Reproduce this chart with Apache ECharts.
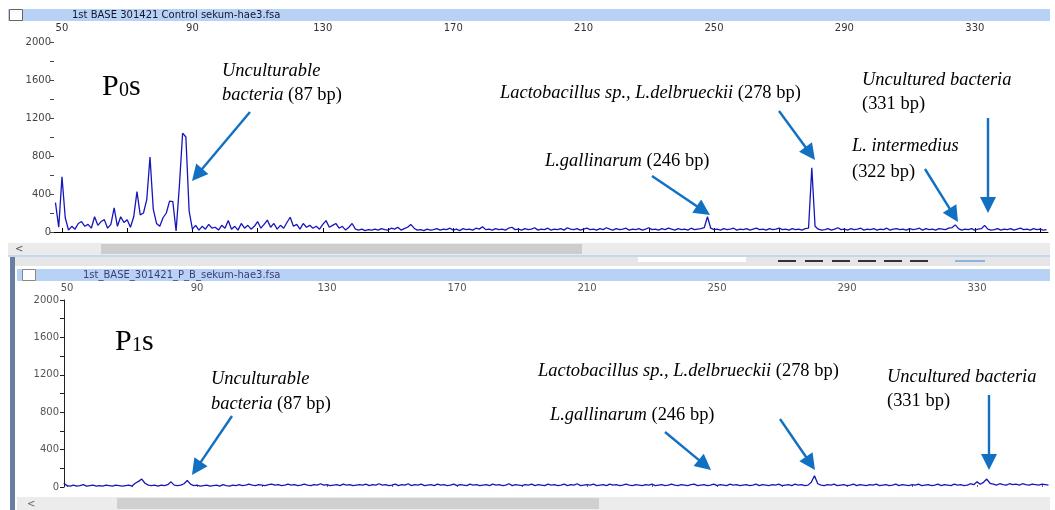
<!DOCTYPE html>
<html><head><meta charset="utf-8">
<script src="https://cdn.jsdelivr.net/npm/echarts@6/dist/echarts.min.js"></script>
<style>html,body{margin:0;padding:0;background:#fff;}#c{width:1055px;height:510px;}</style>
</head><body><div id="c"></div>
<script>
// ---------- DATA ----------
const topFileName = '1st BASE 301421 Control sekum-hae3.fsa';
const bottomFileName = '1st_BASE_301421_P_B_sekum-hae3.fsa';
const topStartBp = 48;      // bp of first sample, 1 bp per sample
const topValues = [
  310, 50, 580, 150, 20, 60, 30, 90, 110, 60,      // 48
  80, 40, 160, 70, 110, 130, 40, 80, 255, 60,      // 58
  160, 100, 130, 50, 160, 425, 180, 200, 340, 790, // 68
  240, 90, 60, 150, 200, 325, 320, 10, 480, 1040,  // 78
  1000, 220, 30, 70, 20, 60, 30, 80, 40, 50,       // 88
  20, 70, 40, 120, 30, 60, 20, 90, 40, 70,         // 98
  30, 60, 110, 40, 80, 125, 50, 90, 30, 70,        // 108
  40, 100, 155, 60, 80, 30, 90, 50, 70, 40,        // 118
  60, 30, 80, 120, 50, 70, 90, 40, 60, 20,         // 128
  50, 90, 30, 20, 30, 15, 25, 20, 30, 20,          // 138
  35, 25, 20, 40, 30, 50, 20, 35, 50, 80,          // 148
  40, 20, 25, 15, 30, 20, 25, 35, 20, 30,          // 158
  25, 40, 20, 30, 15, 35, 25, 30, 20, 40,          // 168
  30, 55, 25, 30, 20, 35, 25, 30, 20, 40,          // 178
  50, 25, 30, 20, 35, 25, 30, 45, 20, 30,          // 188
  25, 40, 20, 30, 25, 35, 20, 45, 30, 25,          // 198
  35, 20, 30, 40, 25, 30, 20, 35, 25, 45,          // 208
  30, 20, 35, 25, 30, 40, 20, 30, 25, 35,          // 218
  20, 30, 45, 25, 30, 20, 35, 25, 40, 30,          // 228
  20, 35, 25, 30, 20, 40, 25, 30, 35, 45,          // 238
  160, 40, 25, 30, 20, 35, 25, 30, 40, 20,         // 248
  30, 25, 35, 20, 30, 40, 25, 30, 20, 35,          // 258
  25, 30, 40, 25, 30, 20, 35, 25, 30, 20,          // 268
  35, 40, 675, 60, 30, 20, 25, 35, 20, 30,         // 278
  45, 25, 30, 20, 35, 25, 30, 40, 20, 30,          // 288
  25, 35, 20, 30, 25, 40, 20, 30, 35, 25,          // 298
  30, 20, 35, 25, 30, 40, 20, 35, 25, 30,          // 308
  20, 35, 30, 25, 40, 45, 75, 35, 20, 30,          // 318
  25, 35, 20, 30, 35, 70, 30, 20, 25, 35,          // 328
  20, 30, 25, 35, 20, 30, 40, 25, 30, 20,          // 338
  35, 25, 30, 20, 25                               // 348
];
const bottomStartBp = 49;
const bottomValues = [
  40, 15, 10, 20, 10, 15, 25, 10, 15, 20,          // 49
  10, 15, 10, 20, 15, 10, 20, 15, 10, 15,          // 59
  20, 10, 40, 60, 85, 40, 20, 15, 20, 10,          // 69
  20, 15, 25, 55, 20, 15, 20, 35, 70, 30,          // 79
  15, 20, 10, 15, 20, 10, 15, 20, 10, 25,          // 89
  15, 10, 20, 15, 25, 15, 20, 30, 20, 15,          // 99
  25, 20, 15, 25, 30, 20, 25, 15, 20, 30,          // 109
  20, 25, 15, 20, 30, 20, 15, 25, 20, 35,          // 119
  20, 25, 15, 20, 25, 15, 30, 20, 25, 15,          // 129
  20, 25, 20, 30, 15, 25, 20, 35, 20, 25,          // 139
  15, 20, 30, 15, 25, 20, 35, 15, 25, 20,          // 149
  30, 15, 20, 25, 15, 30, 20, 25, 15, 20,          // 159
  30, 15, 25, 20, 15, 30, 20, 25, 15, 20,          // 169
  25, 15, 30, 20, 25, 15, 20, 35, 15, 25,          // 179
  20, 15, 25, 20, 30, 15, 25, 20, 15, 30,          // 189
  20, 25, 15, 20, 30, 15, 25, 20, 35, 15,          // 199
  20, 25, 20, 30, 15, 20, 25, 15, 30, 20,          // 209
  25, 15, 20, 30, 20, 15, 25, 20, 15, 25,          // 219
  20, 30, 15, 20, 25, 15, 20, 30, 20, 15,          // 229
  25, 20, 15, 25, 30, 15, 20, 25, 15, 20,          // 239
  30, 15, 25, 20, 15, 30, 20, 25, 15, 20,          // 249
  25, 15, 20, 30, 15, 25, 20, 15, 25, 20,          // 259
  30, 15, 20, 25, 15, 30, 20, 25, 15, 20,          // 269
  50, 120, 35, 20, 15, 25, 20, 30, 15, 20,         // 279
  25, 15, 20, 30, 15, 25, 20, 15, 25, 20,          // 289
  30, 15, 20, 25, 15, 20, 30, 15, 25, 20,          // 299
  15, 25, 20, 30, 15, 20, 25, 15, 20, 30,          // 309
  15, 25, 20, 15, 30, 20, 25, 15, 20, 35,          // 319
  25, 55, 30, 50, 85, 40, 30, 20, 35, 25,          // 329
  20, 35, 25, 30, 20, 35, 25, 20, 30, 25,          // 339
  20, 30, 25, 20                                   // 349
];
const xTickValues = [50,70,90,110,130,150,170,190,210,230,250,270,290,310,330,350];
const xLabelValues = [50,90,130,170,210,250,290,330];
const yTickValues = [0,200,400,600,800,1000,1200,1400,1600,1800,2000];
const yLabelValues = [0,400,800,1200,1600,2000];
const panelNames = [['P','0','s'], ['P','1','s']];
const labelUnc = ['Unculturable', 'bacteria', ' (87 bp)'];
const labelLacto = ['Lactobacillus sp., L.delbrueckii', ' (278 bp)'];
const labelGall = ['L.gallinarum', ' (246 bp)'];
const labelInter = ['L. intermedius', '(322 bp)'];
const labelUncult = ['Uncultured bacteria', '(331 bp)'];

// ---------- CHART ----------
const TRACE = '#1616bb';
const ARROW = '#1170c2';
const SERIF = '"Liberation Serif","Times New Roman",serif';
const SANS = '"DejaVu Sans",Verdana,sans-serif';
const ANN = 18;

function toPairs(start, vals){ return vals.map((v,i)=>[start+i, v]); }

function arrow(x1,y1,x2,y2){
  const dx=x2-x1, dy=y2-y1, L=Math.hypot(dx,dy), ux=dx/L, uy=dy/L;
  const hl=16, hw=8, bx=x2-ux*hl, by=y2-uy*hl;
  return [
    {type:'line', silent:true, shape:{x1:x1,y1:y1,x2:bx+ux*2,y2:by+uy*2}, style:{stroke:ARROW, lineWidth:2.4}},
    {type:'polygon', silent:true, shape:{points:[[x2,y2],[bx-uy*hw,by+ux*hw],[bx+uy*hw,by-ux*hw]]}, style:{fill:ARROW}}
  ];
}
function rich(x, baseline, text){
  const size = ANN;
  return {type:'text', silent:true, x:x, y:baseline-0.34*size, scaleX:1.025, style:{
    text:text, verticalAlign:'middle', align:'left', fill:'#000',
    font: size+'px '+SERIF,
    rich:{ i:{fontStyle:'italic', fontSize:size, fontFamily:SERIF, fill:'#000'},
           n:{fontSize:size, fontFamily:SERIF, fill:'#000'} }
  }};
}
function plain(x, baseline, text, size, italic){
  return {type:'text', silent:true, x:x, y:baseline-0.34*size, style:{
    text:text, verticalAlign:'middle', align:'left', fill:'#000',
    font:(italic?'italic ':'')+size+'px '+SERIF }};
}
function panelName(x, baseline, parts){
  return [plain(x, baseline, parts[0], 30), plain(x+17, baseline+1, parts[1], 20), plain(x+27, baseline, parts[2], 30)];
}
function rect(x,y,w,h,fill,stroke){
  return {type:'rect', silent:true, shape:{x:x,y:y,width:w,height:h}, style:{fill:fill, stroke:stroke||null, lineWidth:1}};
}
function small(x,y,text,color){
  return {type:'text', silent:true, x:x, y:y, style:{text:text, verticalAlign:'middle', fill:color, font:'10px '+SANS}};
}

const graphics = [].concat(
  // top window chrome
  rect(8,9,1042,12,'#b8d2f5'),
  rect(9.5,9.5,13,11,'#fff','#666'),
  small(72,15.5,topFileName,'#15152a'),
  rect(8,243,1042,12,'#ebebeb'),
  rect(101,244,481,10,'#cdcdcd'),
  small(15,249,'<','#555'),
  rect(8,255,1042,2,'#c3d7ef'),
  rect(15,257,1035,9,'#e6e6e6'),
  rect(638,257,108,5,'#ffffff'),
  rect(778,260,18,2,'#333'), rect(805,260,18,2,'#333'), rect(832,260,18,2,'#333'),
  rect(858,260,18,2,'#333'), rect(884,260,18,2,'#333'), rect(910,260,18,2,'#333'),
  rect(955,260,30,2,'#8fb0e0'),
  // bottom window chrome
  rect(10,257,5,253,'#6a7ea2'),
  rect(17,269,1033,12,'#b8d2f5'),
  rect(22.5,269.5,13,11,'#fff','#888'),
  small(83,275,bottomFileName,'#3c3c78'),
  rect(17,497,1033,13,'#ececec'),
  rect(117,498,482,11,'#d0d0d0'),
  small(27,504,'<','#666'),
  // top annotations
  panelName(102, 97, panelNames[0]),
  rich(222, 77, '{i|'+labelUnc[0]+'}'),
  rich(222, 101, '{i|'+labelUnc[1]+'}{n|'+labelUnc[2]+'}'),
  arrow(250,112,192,181),
  rich(500, 99, '{i|'+labelLacto[0]+'}{n|'+labelLacto[1]+'}'),
  arrow(779,111,815,160),
  rich(545, 167, '{i|'+labelGall[0]+'}{n|'+labelGall[1]+'}'),
  arrow(652,176,710,215),
  rich(852, 152, '{i|'+labelInter[0]+'}'),
  rich(852, 178, '{n|'+labelInter[1]+'}'),
  arrow(925,169,958,222),
  rich(862, 86, '{i|'+labelUncult[0]+'}'),
  rich(862, 110, '{n|'+labelUncult[1]+'}'),
  arrow(988,118,988,213),
  // bottom annotations
  panelName(115, 352, panelNames[1]),
  rich(211, 385, '{i|'+labelUnc[0]+'}'),
  rich(211, 410, '{i|'+labelUnc[1]+'}{n|'+labelUnc[2]+'}'),
  arrow(232,416,192,475),
  rich(538, 377, '{i|'+labelLacto[0]+'}{n|'+labelLacto[1]+'}'),
  rich(550, 421, '{i|'+labelGall[0]+'}{n|'+labelGall[1]+'}'),
  arrow(665,432,711,470),
  arrow(780,419,815,470),
  rich(887, 383, '{i|'+labelUncult[0]+'}'),
  rich(887, 407, '{n|'+labelUncult[1]+'}'),
  arrow(989,395,989,470)
);

const noComma = v => String(v);
const axisLabelBase = {fontFamily:SANS, fontSize:10, formatter:noComma};
const chart = echarts.init(document.getElementById('c'), null, {renderer:'canvas'});
chart.setOption({
  animation:false,
  backgroundColor:'#ffffff',
  grid:[
    {left:54, top:42, width:994, height:190, containLabel:false, outerBoundsMode:'none'},
    {left:64, top:300, width:986, height:187, containLabel:false, outerBoundsMode:'none'}
  ],
  xAxis:[
    {gridIndex:0, type:'value', position:'top', min:47.55, max:352.45, offset:4,
     axisLine:{show:true, lineStyle:{color:'#000', width:1}},
     axisTick:{show:true, customValues:xTickValues, length:4, lineStyle:{color:'#000'}},
     axisLabel:Object.assign({customValues:xLabelValues, margin:5, color:'#333'}, axisLabelBase),
     splitLine:{show:false}},
    {gridIndex:1, type:'value', position:'top', min:49.08, max:352.46, offset:3,
     axisLine:{show:false},
     axisTick:{show:true, customValues:xTickValues, length:2, lineStyle:{color:'#666'}},
     axisLabel:Object.assign({customValues:xLabelValues, margin:4, color:'#555'}, axisLabelBase),
     splitLine:{show:false}}
  ],
  yAxis:[
    {gridIndex:0, type:'value', min:0, max:2000, position:'left',
     axisLine:{show:false},
     axisTick:{show:true, customValues:yTickValues, length:4, lineStyle:{color:'#444'}},
     axisLabel:Object.assign({customValues:yLabelValues, margin:3, color:'#444'}, axisLabelBase),
     splitLine:{show:false}},
    {gridIndex:1, type:'value', min:0, max:2000, position:'left',
     axisLine:{show:true, lineStyle:{color:'#222', width:1}},
     axisTick:{show:true, customValues:yTickValues, length:4, lineStyle:{color:'#222'}},
     axisLabel:Object.assign({customValues:yLabelValues, margin:5, color:'#555'}, axisLabelBase),
     splitLine:{show:false}}
  ],
  series:[
    {type:'line', xAxisIndex:0, yAxisIndex:0, data:toPairs(topStartBp, topValues), showSymbol:false, symbol:'none',
     lineStyle:{color:TRACE, width:1.3}, z:3},
    {type:'line', xAxisIndex:1, yAxisIndex:1, data:toPairs(bottomStartBp, bottomValues), showSymbol:false, symbol:'none',
     lineStyle:{color:TRACE, width:1.3}, z:3}
  ],
  graphic:graphics
});
</script></body></html>
